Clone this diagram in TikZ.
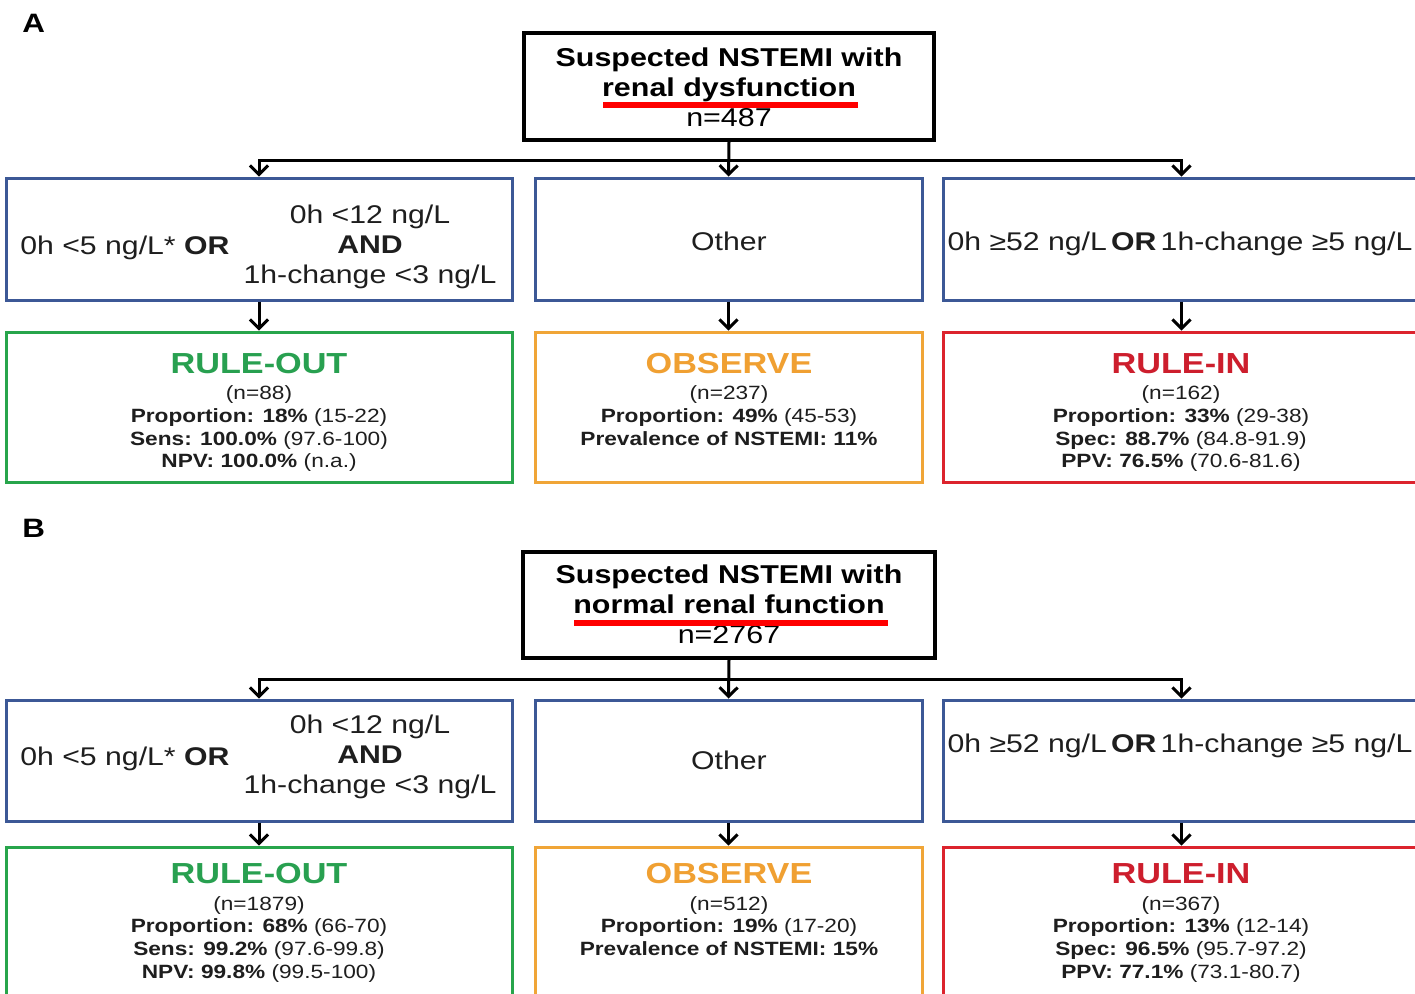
\documentclass[tikz,border=0pt]{standalone}
\usepackage{fontspec}
\setmainfont{Liberation Sans}[FakeStretch=1.18]
\usetikzlibrary{arrows.meta}
\definecolor{boxblue}{RGB}{60,88,150}
\definecolor{boxgreen}{RGB}{40,165,75}
\definecolor{boxorange}{RGB}{240,165,55}
\definecolor{boxred}{RGB}{220,35,45}
\definecolor{titlegreen}{RGB}{40,160,80}
\definecolor{titleorange}{RGB}{240,160,50}
\definecolor{titlered}{RGB}{205,30,45}
\definecolor{txt}{RGB}{30,30,30}
\definecolor{ulred}{RGB}{255,0,0}
\newcommand\mystack[1]{\begin{tabular}[t]{@{}c@{}}#1\end{tabular}}
\begin{document}
\begin{tikzpicture}[x=0.5pt,y=-0.5pt,
  topbox/.style={draw=black, line width=2pt, inner sep=0pt, rectangle},
  critbox/.style={draw=boxblue, line width=1.5pt, inner sep=0pt, rectangle, minimum height=61pt},
  resbox/.style={line width=1.5pt, inner sep=0pt, rectangle},
  arr/.style={line width=1.5pt, line join=miter, -{Straight Barb[length=4.5pt,width=9pt]}},
  toptext/.style={font=\fontsize{12.9}{15}\selectfont, text=black, inner sep=0pt, anchor=base},
  crit/.style={font=\fontsize{12.8}{15}\selectfont, text=txt, inner sep=0pt, anchor=base},
  restitle/.style={font=\fontsize{14.5}{16}\selectfont\bfseries, inner sep=0pt, anchor=base},
  resbody/.style={font=\fontsize{9.6}{11.4}\selectfont, text=txt, inner sep=0pt, anchor=base},
  panellab/.style={font=\fontsize{13.3}{15}\selectfont\bfseries, text=black, inner sep=0pt, anchor=base west},
  uline/.style={draw=ulred, line width=3pt}
]
\useasboundingbox (0,0) rectangle (1415,993);
\fill[white] (0,0) rectangle (1415,993);
\clip (0,0) rectangle (1415,993);

% ================= Panel A =================
\node[panellab] (labA) at (22,32) {A};
\node[topbox, minimum width=205pt, minimum height=53.5pt] (topA) at (729,86.5) {};
\node[toptext] (topAt) at (729,66.7) {\mystack{\textbf{Suspected NSTEMI with}\\ \textbf{renal dysfunction}\\ n=487}};
\draw[uline] (603,105) -- (858,105);

\node[critbox, minimum width=253pt] (c1A) at (259,239) {};
\node[critbox, minimum width=193.5pt] (c2A) at (728.5,239) {};
\node[critbox, minimum width=238.5pt] (c3A) at (1181.5,239) {};

\node[crit, anchor=base west] (c1Al) at (20,254) {0h <5 ng/L* \textbf{OR}};
\node[crit] (c1Ar) at (370,223) {\mystack{0h <12 ng/L\\ \textbf{AND}\\ 1h-change <3 ng/L}};
\node[crit] (c2At) at (729,250) {Other};
\node[crit] (c3At) at (1180,250) {0h ≥52 ng/L\,\textbf{OR}\,1h-change ≥5 ng/L};

\node[resbox, draw=boxgreen, minimum width=253pt, minimum height=75pt] (r1A) at (259,407) {};
\node[resbox, draw=boxorange, minimum width=193.5pt, minimum height=75pt] (r2A) at (728.5,407) {};
\node[resbox, draw=boxred, minimum width=238.5pt, minimum height=75pt] (r3A) at (1181.5,407) {};

\node[restitle, text=titlegreen] (r1At) at (259,373) {RULE-OUT};
\node[restitle, text=titleorange] (r2At) at (729,373) {OBSERVE};
\node[restitle, text=titlered] (r3At) at (1181,373) {RULE-IN};

\node[resbody] (r1Ab) at (259,399.5) {\mystack{(n=88)\\ \textbf{Proportion: 18\%} (15-22)\\ \textbf{Sens: 100.0\%} (97.6-100)\\ \textbf{NPV: 100.0\%} (n.a.)}};
\node[resbody] (r2Ab) at (729,399.5) {\mystack{(n=237)\\ \textbf{Proportion: 49\%} (45-53)\\ \textbf{Prevalence of NSTEMI: 11\%}}};
\node[resbody] (r3Ab) at (1181,399.5) {\mystack{(n=162)\\ \textbf{Proportion: 33\%} (29-38)\\ \textbf{Spec: 88.7\%} (84.8-91.9)\\ \textbf{PPV: 76.5\%} (70.6-81.6)}};

\coordinate (jA) at (729,160);
\draw[arr] (topA.south) -- (c2A.north);
\draw[arr] (jA) -| (c1A.north);
\draw[arr] (jA) -| (c3A.north);
\draw[arr] (c1A.south) -- (r1A.north);
\draw[arr] (c2A.south) -- (r2A.north);
\draw[arr] (c3A.south) -- (r3A.north);

% ================= Panel B =================
\node[panellab] (labB) at (22,537) {B};
\node[topbox, minimum width=206pt, minimum height=53pt] (topB) at (729,605) {};
\node[toptext] (topBt) at (729,583) {\mystack{\textbf{Suspected NSTEMI with}\\ \textbf{normal renal function}\\ n=2767}};
\draw[uline] (574,623) -- (888,623);

\node[critbox, minimum width=253pt, minimum height=60.5pt] (c1B) at (259,760.5) {};
\node[critbox, minimum width=193.5pt, minimum height=60.5pt] (c2B) at (728.5,760.5) {};
\node[critbox, minimum width=238.5pt, minimum height=60.5pt] (c3B) at (1181.5,760.5) {};

\node[crit, anchor=base west] (c1Bl) at (20,765) {0h <5 ng/L* \textbf{OR}};
\node[crit] (c1Br) at (370,733) {\mystack{0h <12 ng/L\\ \textbf{AND}\\ 1h-change <3 ng/L}};
\node[crit] (c2Bt) at (729,769) {Other};
\node[crit] (c3Bt) at (1180,752) {0h ≥52 ng/L\,\textbf{OR}\,1h-change ≥5 ng/L};

\node[resbox, draw=boxgreen, minimum width=253pt, minimum height=81.5pt] (r1B) at (259,928.5) {};
\node[resbox, draw=boxorange, minimum width=193.5pt, minimum height=81.5pt] (r2B) at (728.5,928.5) {};
\node[resbox, draw=boxred, minimum width=238.5pt, minimum height=81.5pt] (r3B) at (1181.5,928.5) {};

\node[restitle, text=titlegreen] (r1Bt) at (259,883) {RULE-OUT};
\node[restitle, text=titleorange] (r2Bt) at (729,883) {OBSERVE};
\node[restitle, text=titlered] (r3Bt) at (1181,883) {RULE-IN};

\node[resbody] (r1Bb) at (259,910) {\mystack{(n=1879)\\ \textbf{Proportion: 68\%} (66-70)\\ \textbf{Sens: 99.2\%} (97.6-99.8)\\ \textbf{NPV: 99.8\%} (99.5-100)}};
\node[resbody] (r2Bb) at (729,910) {\mystack{(n=512)\\ \textbf{Proportion: 19\%} (17-20)\\ \textbf{Prevalence of NSTEMI: 15\%}}};
\node[resbody] (r3Bb) at (1181,910) {\mystack{(n=367)\\ \textbf{Proportion: 13\%} (12-14)\\ \textbf{Spec: 96.5\%} (95.7-97.2)\\ \textbf{PPV: 77.1\%} (73.1-80.7)}};

\coordinate (jB) at (729,679);
\draw[arr] (topB.south) -- (c2B.north);
\draw[arr] (jB) -| (c1B.north);
\draw[arr] (jB) -| (c3B.north);
\draw[arr] (c1B.south) -- (r1B.north);
\draw[arr] (c2B.south) -- (r2B.north);
\draw[arr] (c3B.south) -- (r3B.north);
\end{tikzpicture}
\end{document}
